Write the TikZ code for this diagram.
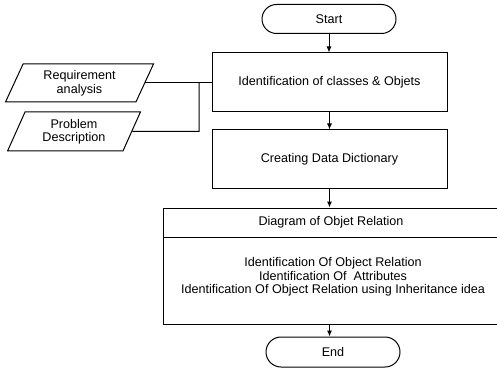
\documentclass[tikz,border=0pt]{standalone}
\usepackage{fontspec}
\setmainfont{Liberation Sans}
\usetikzlibrary{shapes.geometric,shapes.misc,arrows.meta}

\begin{document}
\begin{tikzpicture}[x=1pt,y=-1pt,
  every node/.style={font=\fontsize{12.6}{13.5}\selectfont, inner sep=0pt, line width=1pt},
  terminal/.style={draw, rounded rectangle, minimum width=134, minimum height=29},
  stepbox/.style={draw, rectangle, minimum width=235},
  wide/.style={draw, rectangle, minimum width=336},
  inputdoc/.style={draw, trapezium, trapezium stretches=true,
    trapezium left angle=66, trapezium right angle=114,
    minimum width=149, minimum height=38, align=center},
  flow/.style={line width=1pt, -{Latex[length=6pt,width=5pt]}},
  link/.style={line width=1pt}
]
\useasboundingbox (0,0) rectangle (497,374);

% main column
\node[terminal] (start) at (329,19) {Start};
\node[stepbox, minimum height=59] (ident) at (329.5,82.5) {Identification of classes \& Objets};
\node[stepbox, minimum height=58] (dict) at (329.5,159) {Creating Data Dictionary};
\node[wide, minimum height=29] (dhead) at (331,222.5) {Diagram of Objet Relation};
\node[wide, minimum height=87] (dbody) at (331,280.5) {};
\node[align=center] (dtext) at (333,277)
  {Identification Of Object Relation\\
   Identification Of~ Attributes\\
   Identification Of Object Relation using Inheritance idea};
\node[terminal, minimum height=30] (end) at (333,352) {End};

% inputs on the left
\node[inputdoc] (req) at (79.5,83) {Requirement\\analysis};
\node[inputdoc, minimum width=134, minimum height=39] (prob) at (74,131.5) {Problem\\Description};
\coordinate (join) at (199,131.5);

% connectors
\draw[flow] (start.south) -- (ident.north -| start.south);
\draw[flow] (ident.south) -- (dict.north);
\draw[flow] (dict.south) -- (dhead.north -| dict.south);
\draw[flow] (dbody.south -| dict.south) -- (end.north -| dict.south);
\draw[link] (req.east) -- (ident.west |- req.east);
\draw[link] (prob.east) -- (join) -- (join |- req.east);
\end{tikzpicture}
\end{document}
